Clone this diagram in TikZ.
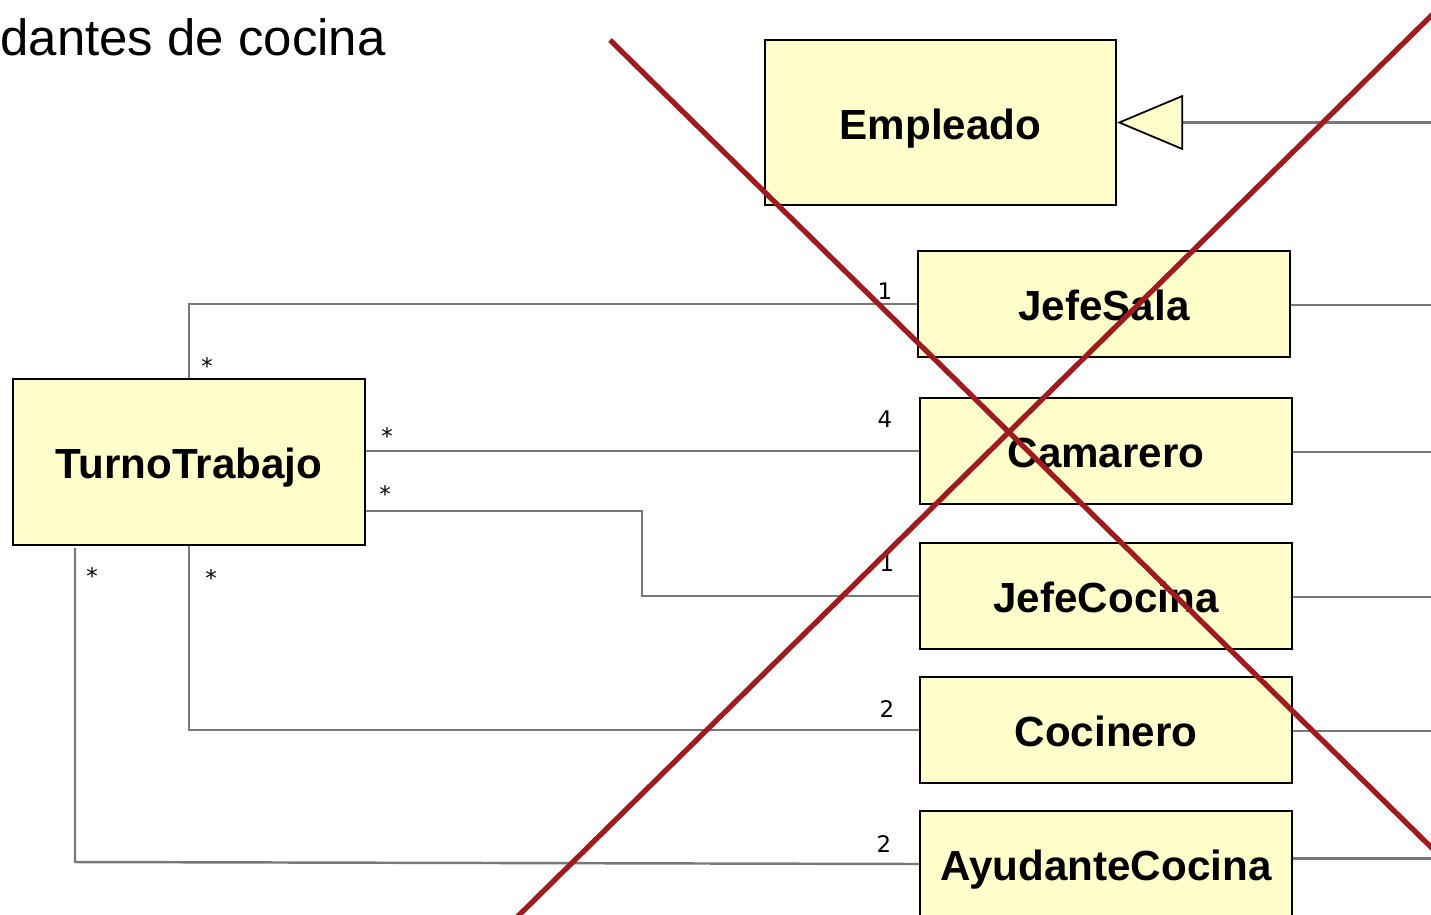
\documentclass[tikz,border=0pt]{standalone}
\usepackage{fontspec}
\setmainfont{Liberation Sans}
\newfontfamily\multfont{DejaVu Sans}
\usetikzlibrary{arrows.meta}
\definecolor{umlfill}{HTML}{FFFFCC}
\definecolor{linegray}{HTML}{787878}
\definecolor{crossred}{HTML}{9E1B20}

\begin{document}
\begin{tikzpicture}[x=0.02cm,y=-0.02cm,
	assoc/.style={draw=linegray,line width=1.4pt},
	mult/.style={inner sep=0,font=\multfont\fontsize{13}{15}\selectfont,text height=9.5pt,text depth=0pt},
	tachado/.style={draw=crossred,line width=3pt}]
	\useasboundingbox (0,0) rectangle (1431,914);
	\clip (0,0) rectangle (1431,914);

	\node[anchor=base east,inner sep=0,font=\fontsize{29}{34}\selectfont] (titulo) at (386,55) {dantes de cocina};

	\begin{scope}[every node/.style={draw=black,line width=1.2pt,fill=umlfill,inner sep=0,
			font=\fontsize{24}{28}\selectfont\bfseries,text height=19.3pt,text depth=0pt,
			minimum width=7.44cm,minimum height=2.12cm}]
		\node[minimum width=7.02cm,minimum height=3.3cm] (emp) at (940.5,122.5) {Empleado};
		\node[minimum width=7.04cm,minimum height=3.32cm] (turno) at (189,462) {TurnoTrabajo};
		\node (jsala) at (1104,304) {JefeSala};
		\node (cam) at (1106,451) {Camarero};
		\node (jcoc) at (1106,596) {JefeCocina};
		\node (coc) at (1106,730) {Cocinero};
		\node (ayu) at (1106,864) {AyudanteCocina};
	\end{scope}

	% herencia
	\coordinate (g) at (1440,122.5);
	\draw[assoc,-{Triangle[length=1.32cm,width=1.1cm,color=black,fill=umlfill,line width=1pt]}] (g) -- (emp.east);

	% lineas hacia la derecha
	\foreach \n/\y in {jsala/305,cam/452,jcoc/597,coc/731,ayu/858.5} {
		\coordinate (r\n) at (1440,\y);
		\draw[assoc] (\n.east |- r\n) -- (r\n);
	}

	% asociaciones con TurnoTrabajo
	\coordinate (k1) at (642,511);
	\coordinate (k2) at (75,548);
	\coordinate (k3) at (75,862);
	\draw[assoc] (turno.north) |- (jsala.west);
	\draw[assoc] (cam.west -| turno.east) -- (cam.west);
	\draw[assoc] (turno.east |- k1) -- (k1) |- (jcoc.west);
	\draw[assoc] (turno.south) |- (coc.west);
	\draw[assoc] (k2) -- (k3) -- (ayu.west);

	\begin{scope}[every node/.style={mult}]
		\node (s1) at (207,366) {*};
		\node (s2) at (387,436) {*};
		\node (s3) at (385,494) {*};
		\node (s4) at (92,576) {*};
		\node (s5) at (211,578) {*};
		\node (m1) at (885,291) {1};
		\node (m2) at (885,419) {4};
		\node (m3) at (887,563) {1};
		\node (m4) at (887,709) {2};
		\node (m5) at (884,844) {2};
	\end{scope}

	% tachado
	\draw[tachado] (610,40) -- (1440,856);
	\draw[tachado] (510,924) -- (1440,7);
\end{tikzpicture}
\end{document}
